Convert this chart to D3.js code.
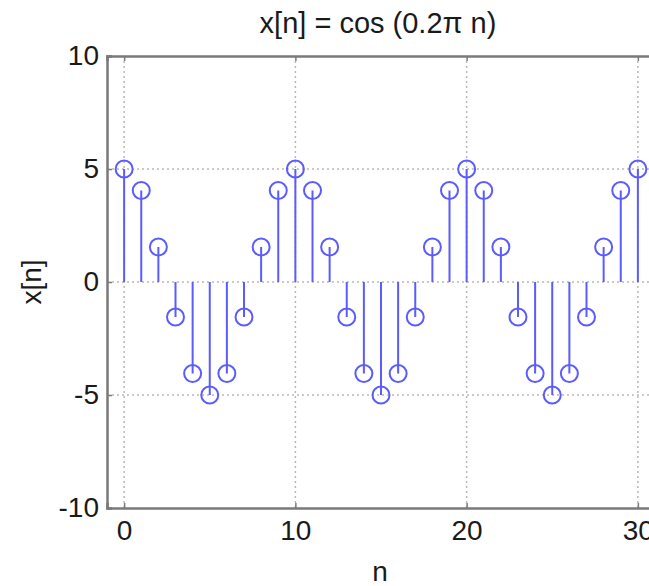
<!DOCTYPE html>
<html>
<head>
<meta charset="utf-8">
<script src="https://cdn.jsdelivr.net/npm/d3@7"></script>
<style>
  body { margin: 0; background: #fff; overflow: hidden; }
  text { font-family: "Liberation Sans", Arial, Helvetica, sans-serif; fill: #1a1a1a; }
</style>
</head>
<body>
<div id="chart"></div>
<script>
// sample index and values
const nValues = [0, 1, 2, 3, 4, 5, 6, 7, 8, 9, 10, 11, 12, 13, 14, 15,
  16, 17, 18, 19, 20, 21, 22, 23, 24, 25, 26, 27, 28, 29, 30];
const xValues = [5, 4.05, 1.55, -1.55, -4.05, -5, -4.05, -1.55, 1.55, 4.05,
  5, 4.05, 1.55, -1.55, -4.05, -5, -4.05, -1.55, 1.55, 4.05,
  5, 4.05, 1.55, -1.55, -4.05, -5, -4.05, -1.55, 1.55, 4.05, 5];
const xTicks = [0, 10, 20, 30];
const yTicks = [-10, -5, 0, 5, 10];
const titleText = 'x[n] = cos (0.2\u03c0 n)';

const data = nValues.map((n, i) => ({ n: n, v: xValues[i] }));

const width = 649, height = 586;
// the axes box runs past the right edge of the picture
const margin = { top: 56, left: 107, right: -6, bottom: 78 };

const svg = d3.select('#chart')
  .append('svg')
  .attr('width', width)
  .attr('height', height);

const xScale = d3.scaleLinear()
  .domain([-1, 31])
  .range([margin.left, width - margin.right]);

const yScale = d3.scaleLinear()
  .domain([-10, 10])
  .range([height - margin.bottom, margin.top]);

const x0 = xScale.range()[0], x1 = xScale.range()[1];
const y0 = yScale.range()[0], y1 = yScale.range()[1];

// plain hyphen for negatives, like the original
const fmt = d => d.toString();

// dotted grid
const grid = svg.append('g')
  .attr('stroke', '#b8b8b8')
  .attr('stroke-width', 1.5)
  .attr('stroke-dasharray', '2,3');

grid.selectAll('.gx')
  .data(xTicks)
  .enter().append('line')
  .attr('x1', d => xScale(d)).attr('x2', d => xScale(d))
  .attr('y1', y1).attr('y2', y0);

grid.selectAll('.gy')
  .data(yTicks.filter(d => d > -10 && d < 10))
  .enter().append('line')
  .attr('x1', x0).attr('x2', x1)
  .attr('y1', d => yScale(d)).attr('y2', d => yScale(d));

// axes
const xAxis = svg.append('g')
  .attr('transform', 'translate(0,' + y0 + ')')
  .call(d3.axisBottom(xScale).tickValues(xTicks).tickSize(-5).tickPadding(12).tickFormat(fmt));

const xAxisTop = svg.append('g')
  .attr('transform', 'translate(0,' + y1 + ')')
  .call(d3.axisTop(xScale).tickValues(xTicks).tickSize(-5).tickFormat(''));

const yAxis = svg.append('g')
  .attr('transform', 'translate(' + x0 + ',0)')
  .call(d3.axisLeft(yScale).tickValues(yTicks).tickSize(-5).tickPadding(8).tickFormat(fmt));

[xAxis, xAxisTop, yAxis].forEach(a => {
  a.select('.domain').attr('stroke', '#7a7a7a').attr('stroke-width', 2.5);
  a.selectAll('.tick line').attr('stroke', '#7a7a7a').attr('stroke-width', 1.5);
  a.selectAll('.tick text')
    .attr('font-size', 28)
    .attr('fill', '#1a1a1a');
});

// stems
const blue = '#5b5bff';
svg.append('g')
  .selectAll('.stem')
  .data(data)
  .enter().append('line')
  .attr('class', 'stem')
  .attr('x1', d => xScale(d.n)).attr('x2', d => xScale(d.n))
  .attr('y1', yScale(0)).attr('y2', d => yScale(d.v))
  .attr('stroke', blue)
  .attr('stroke-width', 2);

svg.append('g')
  .selectAll('.head')
  .data(data)
  .enter().append('circle')
  .attr('class', 'head')
  .attr('cx', d => xScale(d.n))
  .attr('cy', d => yScale(d.v))
  .attr('r', 8.5)
  .attr('fill', 'none')
  .attr('stroke', blue)
  .attr('stroke-width', 2);

// title and labels
svg.append('text')
  .attr('x', 378)
  .attr('y', 33)
  .attr('text-anchor', 'middle')
  .attr('font-size', 29)
  .text(titleText);

svg.append('text')
  .attr('x', 380)
  .attr('y', 581)
  .attr('text-anchor', 'middle')
  .attr('font-size', 28)
  .text('n');

svg.append('text')
  .attr('transform', 'translate(41,' + yScale(0) + ') rotate(-90)')
  .attr('text-anchor', 'middle')
  .attr('font-size', 28)
  .text('x[n]');
</script>
</body>
</html>
